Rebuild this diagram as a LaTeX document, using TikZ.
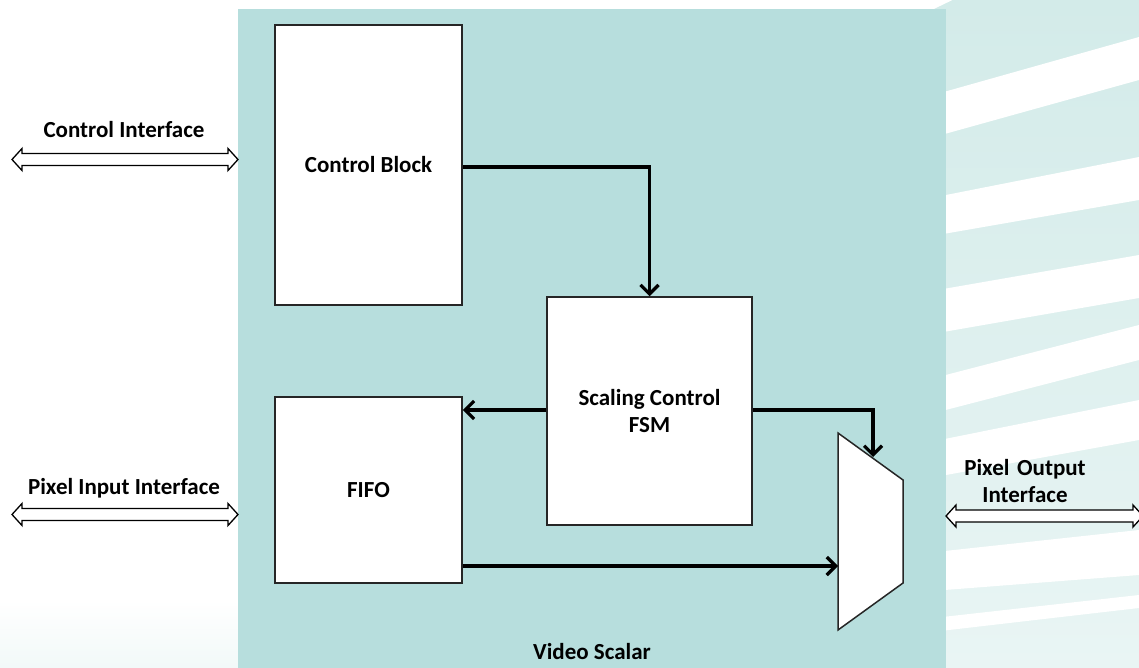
\documentclass[tikz,border=0pt]{standalone}
\usepackage{fontspec}
\setmainfont{Carlito}
\usetikzlibrary{arrows.meta}
\definecolor{mainteal}{HTML}{B7DEDD}
\definecolor{bandtop}{HTML}{D3EBE9}
\definecolor{bandbot}{HTML}{E9F5F4}
\definecolor{boxline}{HTML}{262626}
\newcommand\mystripe[4]{%
  \fill[white] (880,#1) .. controls (1030,{#3+0.42*((#1)-(#3))}) .. (1139,#3)
     -- (1139,#4) .. controls (1030,{#4+0.42*((#2)-(#4))}) .. (880,#2) -- cycle;}
\newcommand\mydblarrow[4]{%
  \draw[dblarr] (#2,#4) -- ({#2+10},{#4-11}) -- ({#2+10},{#4-6}) -- ({#3-10},{#4-6})
     -- ({#3-10},{#4-11}) -- (#3,#4) -- ({#3-10},{#4+11}) -- ({#3-10},{#4+6})
     -- ({#2+10},{#4+6}) -- ({#2+10},{#4+11}) -- cycle;
  \coordinate (#1) at ({(#2+#3)/2},#4);}
\begin{document}
\begin{tikzpicture}[x=1pt,y=-1pt,
  lbl/.style={font=\fontsize{23}{27}\selectfont\bfseries, text=black, align=center},
  blk/.style={draw=boxline, line width=1.5pt, fill=white, inner sep=0pt, lbl},
  dblarr/.style={draw=black, fill=white, line width=1.3pt, line join=miter},
  conn/.style={line width=3.8pt, black, -{Straight Barb[length=9pt,width=18pt,line width=3.2pt]}}]
\useasboundingbox (0,0) rectangle (1139,668);
\fill[white] (0,0) rectangle (1139,668);
% faint bottom-left gradient
\shade[top color=white, bottom color=bandbot!60!white] (0,600) rectangle (238,668);
% decorative background stripes
\begin{scope}
  \clip (900,0) rectangle (1139,668);
  \shade[top color=bandtop, bottom color=bandbot] (900,0) rectangle (1139,668);
  \mystripe{-5}{35}{-130}{-90}
  \mystripe{110}{152}{37}{80}
  \mystripe{208}{245}{157}{200}
  \mystripe{300}{343}{255}{298}
  \mystripe{392}{427}{325}{360}
  \mystripe{452}{487}{400}{440}
  \mystripe{558}{595}{530}{575}
  \mystripe{624}{638}{595}{608}
\end{scope}
% main block
\fill[mainteal] (238,9) rectangle (946,668);
\node[lbl] (vs) at (592,652) {Video Scalar};
% blocks
\node[blk, minimum width=187pt, minimum height=280pt] (cb) at (368.5,165) {Control Block};
\node[blk, minimum width=187pt, minimum height=186pt] (fifo) at (368.5,490) {FIFO};
\node[blk, minimum width=205pt, minimum height=228pt] (fsm) at (649.5,411) {Scaling Control\\FSM};
% mux
\coordinate (m1) at (838,433);
\coordinate (m2) at (903,480);
\coordinate (m3) at (903,583);
\coordinate (m4) at (838,630);
\draw[draw=boxline, line width=1.5pt, fill=white, line join=miter] (m1) -- (m2) -- (m3) -- (m4) -- cycle;
\coordinate (muxsel) at (873,457);
\coordinate (muxin) at (838,566);
% connectors
\draw[conn] (cb.east |- 0,167) -| (fsm.north);
\draw[conn] (fsm.west |- 0,410) -- (fifo.east |- 0,410);
\draw[conn] (fsm.east |- 0,410) -| (muxsel);
\draw[conn] (fifo.east |- 0,566) -- (muxin);
% interfaces
\mydblarrow{ci}{12}{238}{159.5}
\mydblarrow{pi}{12}{238}{514.5}
\mydblarrow{po}{946}{1143}{516}
\node[lbl] (cil) at (124,130) {Control Interface};
\node[lbl] (pil) at (124,488) {Pixel Input Interface};
\node[lbl, text width=140pt] (pol) at (1025,481) {Pixel Output\\Interface};
\end{tikzpicture}
\end{document}
